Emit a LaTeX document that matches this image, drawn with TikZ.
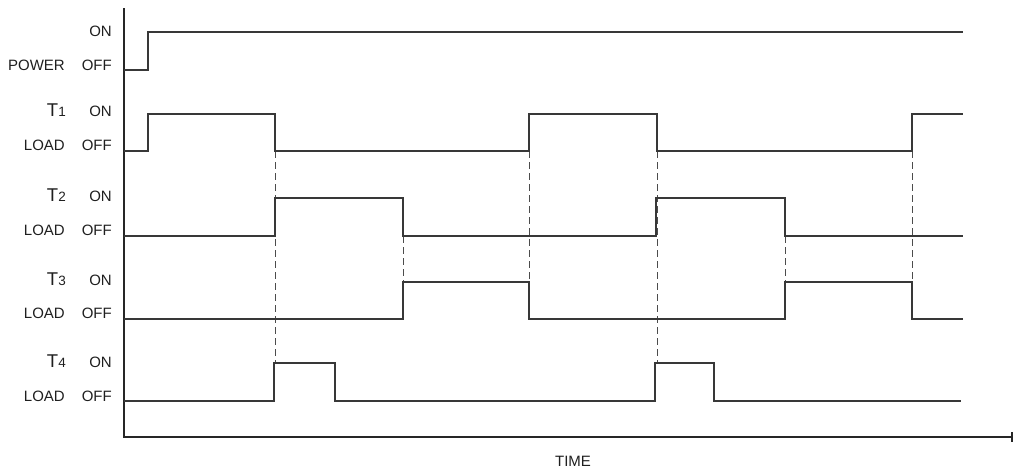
\documentclass[tikz,border=0pt]{standalone}
\usepackage{fontspec}
\setmainfont{Liberation Sans}
\newcommand\Tlbl[1]{{\fontsize{18.5}{18}\selectfont T}{\fontsize{13.5}{13}\selectfont #1}}
\tikzset{
  sig/.style={line width=1.2pt, draw=black!78, line join=miter},
  guide/.style={draw=black!70, line width=1pt, dash pattern=on 7pt off 4pt},
  axisline/.style={line width=1.2pt, draw=black!85},
  lbl/.style={anchor=east, inner sep=0pt, font=\fontsize{15}{15}\selectfont, text=black!88}
}
\begin{document}
\begin{tikzpicture}[x=1pt,y=-1pt]
\useasboundingbox (0,0) rectangle (1013,469);
% axes
\draw[axisline] (124,8) -- (124,437) -- (1012,437);
\draw[line width=2pt, draw=black!85] (1012,432) -- (1012,442);
\node[inner sep=0pt, font=\fontsize{15}{15}\selectfont, text=black!88] (time) at (573,461) {TIME};
% labels
\node[lbl] (on0) at (112,31) {ON};
\node[lbl] (off0) at (112,65) {OFF};
\node[lbl] (pw) at (65,65) {POWER};
\node[lbl] (on1) at (112,111) {ON};
\node[lbl] (off1) at (112,145) {OFF};
\node[lbl] (t1) at (66,110) {\Tlbl{1}};
\node[lbl] (ld1) at (65,145) {LOAD};
\node[lbl] (on2) at (112,196) {ON};
\node[lbl] (off2) at (112,230) {OFF};
\node[lbl] (t2) at (66,195) {\Tlbl{2}};
\node[lbl] (ld2) at (65,230) {LOAD};
\node[lbl] (on3) at (112,280) {ON};
\node[lbl] (off3) at (112,313) {OFF};
\node[lbl] (t3) at (66,279) {\Tlbl{3}};
\node[lbl] (ld3) at (65,313) {LOAD};
\node[lbl] (on4) at (112,362) {ON};
\node[lbl] (off4) at (112,396) {OFF};
\node[lbl] (t4) at (66,361) {\Tlbl{4}};
\node[lbl] (ld4) at (65,396) {LOAD};
% dashed guides
\draw[guide] (275,151) -- (275,363);
\draw[guide] (403,236) -- (403,282);
\draw[guide] (529,151) -- (529,282);
\draw[guide] (657,151) -- (657,363);
\draw[guide] (785,236) -- (785,282);
\draw[guide] (912,151) -- (912,282);
% signals
\draw[sig] (124,70) -| (148,32) -- (963,32);
\draw[sig] (124,151) -| (148,114) -| (275,151) -| (529,114) -| (657,151) -| (912,114) -- (963,114);
\draw[sig] (124,236) -| (275,198) -| (403,236) -| (656,198) -| (785,236) -- (963,236);
\draw[sig] (124,319) -| (403,282) -| (529,319) -| (785,282) -| (912,319) -- (963,319);
\draw[sig] (124,401) -| (274,363) -| (335,401) -| (655,363) -| (714,401) -- (961,401);
\end{tikzpicture}
\end{document}
